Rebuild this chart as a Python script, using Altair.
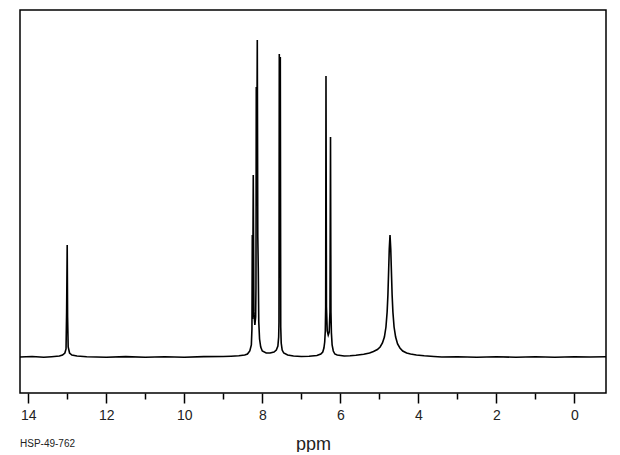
import altair as alt
import pandas as pd

# (chemical shift in ppm, relative intensity)
BASE_LEFT = [(14.21, 0.0), (13.9, 0.5), (13.6, -0.3), (13.4, 0.3)]
PEAK_13 = [(13.20, 1), (13.12, 2), (13.06, 4), (13.03, 8), (13.015, 45), (13.00, 112),
           (12.99, 40), (12.975, 10), (12.94, 4), (12.88, 2), (12.75, 1)]
BASE_MID = [(12.5, 0.3), (12.0, -0.3), (11.5, 0.4), (11.0, -0.2), (10.5, 0.3), (10.0, -0.3),
            (9.5, 0.4), (9.0, 0.5), (8.8, 0.8)]
MULTIPLET_82 = [(8.60, 1.2), (8.45, 2), (8.38, 3), (8.32, 6), (8.28, 12), (8.265, 28),
                (8.256, 122), (8.248, 38), (8.231, 182), (8.215, 45), (8.19, 32), (8.17, 40),
                (8.162, 70), (8.154, 270), (8.141, 200), (8.128, 317), (8.115, 120),
                (8.103, 89), (8.09, 35), (8.07, 18), (8.04, 10), (8.00, 6)]
BASE_76 = [(7.90, 4), (7.80, 4), (7.70, 5), (7.64, 7)]
PEAK_755 = [(7.60, 11), (7.58, 20), (7.572, 35), (7.564, 303), (7.551, 150), (7.538, 300),
            (7.527, 30), (7.515, 14), (7.49, 7), (7.45, 4), (7.35, 2)]
BASE_70 = [(7.2, 1), (7.0, 0.5), (6.8, 0.8), (6.6, 1.5), (6.5, 3)]
DOUBLET_63 = [(6.45, 5), (6.42, 9), (6.40, 15), (6.385, 26), (6.375, 50), (6.367, 281),
              (6.355, 50), (6.335, 26), (6.31, 22), (6.285, 25), (6.265, 45), (6.251, 220),
              (6.24, 45), (6.228, 24), (6.21, 12), (6.18, 6), (6.14, 3), (6.08, 2)]
BASE_55 = [(5.9, 1), (5.75, 1.2)]
PEAK_47 = [(5.60, 1.8), (5.40, 2.8), (5.25, 4), (5.15, 5.5), (5.05, 7.5), (4.98, 10),
           (4.92, 14), (4.87, 20), (4.83, 30), (4.80, 45), (4.78, 62), (4.76, 88),
           (4.745, 108), (4.726, 122), (4.707, 108), (4.692, 88), (4.672, 62), (4.652, 45),
           (4.622, 30), (4.582, 20), (4.532, 13), (4.472, 9), (4.40, 6), (4.30, 4),
           (4.20, 3), (4.05, 2), (3.85, 1.2)]
BASE_RIGHT = [(3.6, 0.5), (3.4, 0), (3.0, 0.3), (2.5, -0.2), (2.0, 0.2), (1.5, -0.2),
              (1.0, 0.2), (0.5, -0.2), (0.0, 0.2), (-0.4, 0), (-0.81, 0.2)]

TICK_VALUES = list(range(0, 15))
X_DOMAIN = [-0.81, 14.21]
Y_DOMAIN = [-36, 347]
X_TITLE = "ppm"
CODE_TEXT = "HSP-49-762"

segments = [BASE_LEFT, PEAK_13, BASE_MID, MULTIPLET_82, BASE_76, PEAK_755, BASE_70,
            DOUBLET_63, BASE_55, PEAK_47, BASE_RIGHT]
rows = [{"ppm": p, "intensity": v} for seg in segments for (p, v) in seg]
spec_df = pd.DataFrame(rows)

line = alt.Chart(spec_df).mark_line(color="black", strokeWidth=1.6, clip=True).encode(
    x=alt.X(
        "ppm:Q",
        scale=alt.Scale(domain=X_DOMAIN, reverse=True, nice=False, zero=False),
        axis=alt.Axis(
            values=TICK_VALUES,
            labelExpr="datum.value % 2 == 0 ? datum.label : ''",
            tickSize={"condition": {"test": "datum.value % 2 == 0", "value": 10}, "value": 6},
            tickColor="black",
            tickWidth=1.5,
            domain=False,
            grid=False,
            labelFont="Liberation Sans",
            labelFontSize=14,
            labelColor="#222222",
            labelPadding=5,
            title=X_TITLE,
            titleFont="Liberation Sans",
            titleFontSize=18,
            titleFontWeight="normal",
            titleColor="#222222",
            titlePadding=13,
        ),
    ),
    y=alt.Y("intensity:Q", scale=alt.Scale(domain=Y_DOMAIN, nice=False, zero=False), axis=None),
)

label = alt.Chart(pd.DataFrame({"t": [CODE_TEXT]})).mark_text(
    align="left", baseline="middle", font="Liberation Sans", fontSize=10, color="#222222"
).encode(x=alt.value(0), y=alt.value(434), text="t:N")

chart = alt.layer(line, label).properties(
    width=586,
    height=383,
    background="white",
    autosize=alt.AutoSizeParams(type="none"),
    padding={"left": 12, "top": 2, "right": 6, "bottom": 59},
).configure_view(stroke="black", strokeWidth=1.5, strokeOpacity=1)

chart.save("out.html", embed_options={"renderer": "svg", "actions": False})
